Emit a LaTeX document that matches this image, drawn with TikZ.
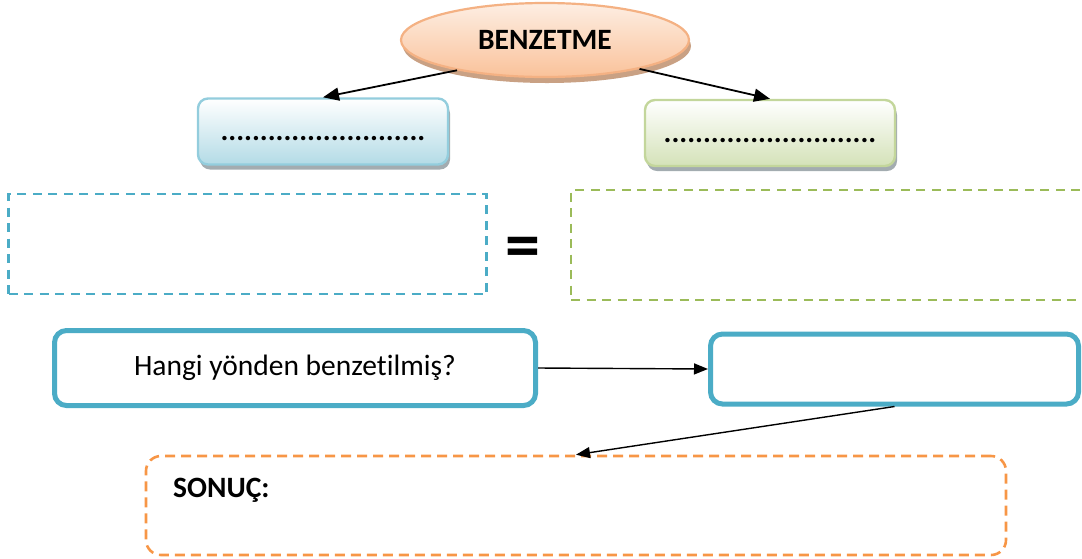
\documentclass[tikz,border=0pt]{standalone}
\usepackage{fontspec}
\setmainfont{Carlito}[Ligatures={NoCommon}]
\usetikzlibrary{shapes.geometric,arrows.meta,shadows}

\definecolor{sblue}{HTML}{4BACC6}
\definecolor{sgreen}{HTML}{9BBB59}
\definecolor{sorange}{HTML}{F79646}
\definecolor{peachline}{HTML}{F4B183}
\definecolor{peachtop}{HTML}{FDEEE3}
\definecolor{peachbot}{HTML}{FAC29A}
\definecolor{peachshadow}{HTML}{C9A184}
\definecolor{ltblueline}{HTML}{93CDDD}
\definecolor{ltbluebot}{HTML}{B3DBE6}
\definecolor{ltgreenline}{HTML}{C3D69B}
\definecolor{ltgreenbot}{HTML}{D4E2B8}
\definecolor{boxshadow}{HTML}{A3ACB0}

\tikzset{
  bigtext/.style={font=\fontsize{29.5}{32}\selectfont},
  bigbold/.style={font=\fontsize{29.5}{32}\selectfont\bfseries},
  headbox/.style={draw=peachline, line width=2.2pt, ellipse,
    top color=peachtop, bottom color=peachbot,
    minimum width=288pt, minimum height=74pt,
    drop shadow={shadow xshift=2pt, shadow yshift=-6pt, fill=peachshadow, opacity=1},
    bigbold},
  blankbox/.style={rounded corners=10pt, line width=2.4pt,
    minimum width=250pt, minimum height=66pt, inner sep=0pt,
    drop shadow={shadow xshift=2pt, shadow yshift=-5pt, fill=boxshadow, opacity=1},
    bigbold},
  dashbox/.style={dash pattern=on 9pt off 6.5pt, line width=2.6pt, inner sep=0pt},
  thickbox/.style={draw=sblue, line width=5pt, rounded corners=12pt, inner sep=0pt,
    fill=white},
  link/.style={line width=1.8pt, -{Triangle[length=16pt,width=13pt]}},
  thinlink/.style={line width=1.4pt, -{Triangle[length=14pt,width=11pt]}},
  x=1pt, y=-1pt
}

\begin{document}
\begin{tikzpicture}
\useasboundingbox (0,0) rectangle (1082,558);

% top ellipse and its two branches
\node[headbox] (head) at (545,40) {BENZETME};

\node[blankbox, draw=ltblueline, top color=white, bottom color=ltbluebot]
  (left) at (323,131.5) {\vphantom{H}..........................};
\node[blankbox, draw=ltgreenline, top color=white, bottom color=ltgreenbot]
  (right) at (770,133) {\vphantom{H}...........................};

\draw[link] (head.199) -- (left.north);
\draw[link] (head.-17) -- (right.north);

% dashed comparison boxes
\node[dashbox, draw=sblue, minimum width=478pt, minimum height=100pt]
  (lhs) at (247.5,244) {};
\node[dashbox, draw=sgreen, minimum width=525pt, minimum height=110pt]
  (rhs) at (833.5,245) {};
\node[font=\fontsize{70}{70}\selectfont\bfseries] (eq) at (523,253) {=};

% question and answer boxes
\node[thickbox, minimum width=481pt, minimum height=75pt, bigtext]
  (quest) at (295,368) {Hangi yönden benzetilmiş?};
\node[thickbox, minimum width=368pt, minimum height=70pt] (ans) at (894.5,369) {};
\draw[thinlink] (quest.east) -- (ans.west);

% conclusion box
\node[dashbox, draw=sorange, rounded corners=15pt, dash pattern=on 10pt off 6pt,
  minimum width=860pt, minimum height=99pt] (res) at (576,505.5) {};
\node[anchor=base west, inner sep=0pt, bigbold]
  (restext) at (173,497) {SONUÇ:};
\draw[thinlink] (ans.south) -- (res.north);
\end{tikzpicture}
\end{document}
